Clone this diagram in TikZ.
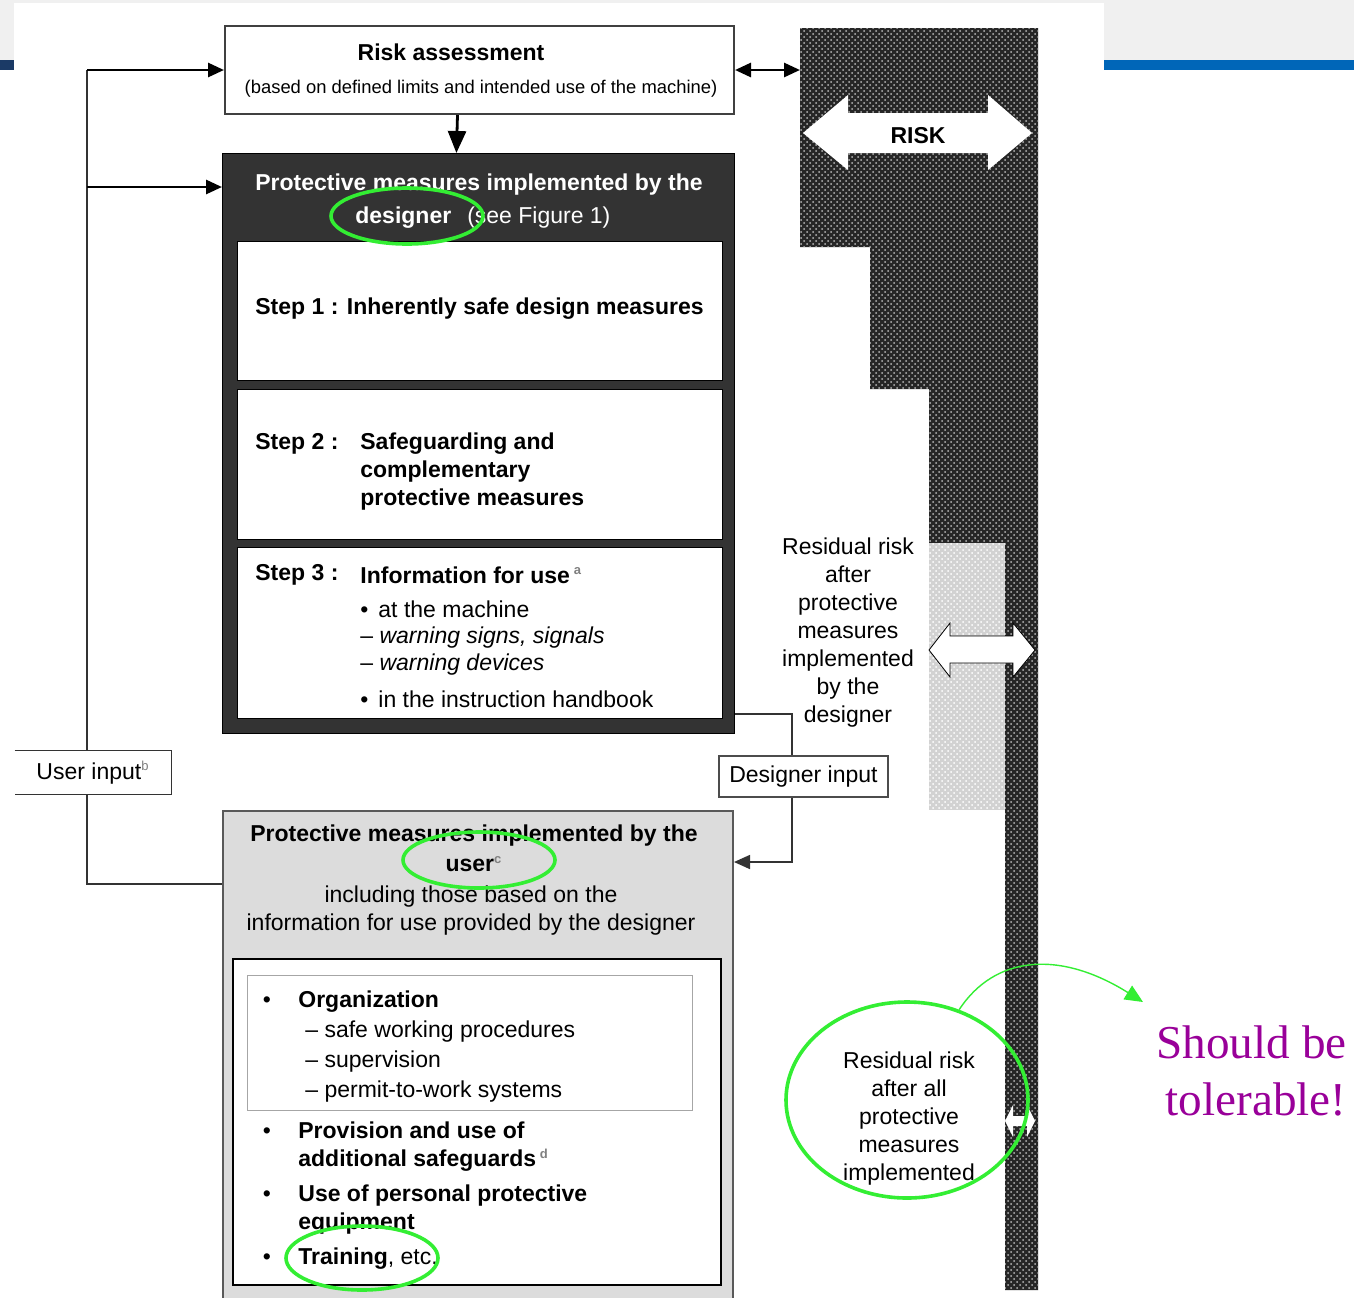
\documentclass[tikz,border=0pt]{standalone}
\usepackage{fontspec}
\setmainfont{Liberation Sans}
\newfontfamily\notefont{Liberation Serif}
\usetikzlibrary{arrows.meta,patterns,shapes.geometric,calc}

\definecolor{headgrey}{HTML}{F0F0F0}
\definecolor{navybar}{HTML}{1B3A66}
\definecolor{bluebar}{HTML}{0066B8}
\definecolor{desfill}{HTML}{333333}
\definecolor{userfill}{HTML}{DCDCDC}
\definecolor{markgreen}{HTML}{33EE33}
\definecolor{notepurple}{HTML}{990099}

\newcommand{\fnmark}[1]{\textsuperscript{\fontsize{6.5}{6.5}\selectfont\color{gray}#1}}

\tikzset{
  txt/.style={inner sep=0pt, yshift=-1.5pt, font=\fontsize{11.5}{14}\selectfont},
  btxt/.style={inner sep=0pt, yshift=-1.5pt, font=\fontsize{11.5}{14}\selectfont\bfseries},
  stepbox/.style={draw=black, fill=white, line width=0.6pt, minimum width=242.5pt, inner sep=0pt, anchor=north west},
  inbox/.style={draw=black!70, fill=white, line width=0.8pt, inner sep=0pt, font=\fontsize{11.5}{14}\selectfont},
  thinline/.style={draw=black!80, line width=0.8pt},
  arrline/.style={draw=black, line width=1.4pt},
  riskfill/.style={fill=black!85, postaction={pattern=crosshatch dots, pattern color=gray!55}},
  lightfill/.style={fill=gray!35, postaction={pattern=crosshatch dots, pattern color=white}},
  ring/.style={ellipse, draw=markgreen, line width=1.8pt, inner sep=0pt}
}

\begin{document}
\begin{tikzpicture}[x=0.5pt, y=-0.5pt, >={Triangle[length=8pt,width=7pt]}]
  \useasboundingbox (0,0) rectangle (1354,1297);

  % slide header behind the figure
  \fill[headgrey] (0,0) rectangle (1354,60);
  \fill[navybar] (0,60) rectangle (14,70);
  \fill[bluebar] (1104,60) rectangle (1354,70);
  \fill[white] (14,3) rectangle (1104,1297);

  % the risk column
  \coordinate (colnw) at (800,28);
  \path[riskfill] (colnw) -- (1038,28) -- (1038,1290) -- (1005,1290) -- (1005,543)
    -- (929,543) -- (929,389) -- (870,389) -- (870,247) -- (800,247) -- cycle;
  \path[lightfill] (929,543) rectangle (1005,810);

  % white double arrows in the column
  \fill[white] (803,133) -- (848,95) -- (848,113) -- (988,113) -- (988,95) -- (1032,133)
    -- (988,170) -- (988,153) -- (848,153) -- (848,170) -- cycle;
  \node[btxt] (risk) at (918,133) {RISK};
  \filldraw[fill=white, draw=black, line width=0.4pt] (929,650) -- (950,623) -- (950,636)
    -- (1013,636) -- (1013,623) -- (1035,650) -- (1013,677) -- (1013,663) -- (950,663)
    -- (950,677) -- cycle;
  \fill[white] (1005,1121) -- (1013,1105) -- (1013,1116) -- (1027,1116) -- (1027,1105)
    -- (1035,1121) -- (1027,1137) -- (1027,1126) -- (1013,1126) -- (1013,1137) -- cycle;

  % risk assessment
  \node[draw=black!75, line width=1pt, fill=white, minimum width=254.5pt, minimum height=44pt,
    inner sep=0pt, anchor=north west] (ra) at (224,25) {};
  \node[btxt] (ratitle) at (451,49) {Risk assessment};
  \node[inner sep=0pt, yshift=-1pt, font=\fontsize{9.2}{11}\selectfont] (rasub) at (481,87)
    {(based on defined limits and intended use of the machine)};

  % designer block
  \node[draw=black, fill=desfill, minimum width=256pt, minimum height=290pt, inner sep=0pt,
    anchor=north west] (des) at (222,153) {};
  \node[btxt, text=white] (destitle) at (479,182) {Protective measures implemented by the};
  \node[txt, text=white, anchor=west] (desname) at (355,215)
    {\textbf{designer}\hspace{8pt}(see Figure 1)};

  \node[stepbox, minimum height=69.5pt] (step1) at (237,241) {};
  \node[btxt, anchor=west] (s1txt) at (255,306) {Step 1 : Inherently safe design measures};

  \node[stepbox, minimum height=75pt] (step2) at (237,389) {};
  \node[btxt, anchor=west] (s2lab) at (255,441) {Step 2 :};
  \node[btxt, anchor=west, align=left] (s2txt) at (360,469)
    {Safeguarding and\\complementary\\protective measures};

  \node[stepbox, minimum height=85.5pt] (step3) at (237,547) {};
  \node[btxt, anchor=west] (s3lab) at (255,572) {Step 3 :};
  \node[btxt, anchor=west] (s3txt) at (360,572) {Information for use\,\fnmark{a}};
  \node[txt, anchor=west] (s3a) at (360,606) {\textbullet\hspace{5pt}at the machine};
  \node[txt, anchor=west] (s3b) at (360,635) {-- \textit{warning signs, signals}};
  \node[txt, anchor=west] (s3c) at (360,662) {-- \textit{warning devices}};
  \node[txt, anchor=west] (s3d) at (360,696) {\textbullet\hspace{5pt}in the instruction handbook};

  \node[txt, align=center] (resdes) at (848,630)
    {Residual risk\\after\\protective\\measures\\implemented\\by the\\designer};

  % inputs
  \node[inbox, minimum width=84.5pt, minimum height=20.5pt] (din) at (803.5,776.5) {Designer input};
  \node[txt, yshift=1.5pt, minimum width=78pt, minimum height=21.5pt] (uin) at (93,772.5) {User input\fnmark{b}};
  \draw[thinline] (uin.north west) -- (uin.north east) -- (uin.south east) -- (uin.south west);

  % user block
  \node[draw=black!65, line width=1pt, fill=userfill, minimum width=255pt, minimum height=250pt,
    inner sep=0pt, anchor=north west] (ubox) at (222,810) {};
  \node[btxt] (utitle) at (474,833) {Protective measures implemented by the};
  \node[btxt] (uname) at (474,861) {user\fnmark{c}};
  \node[txt, align=center] (usub) at (471,908)
    {including those based on the\\information for use provided by the designer};

  \node[draw=black, line width=1pt, fill=white, minimum width=244pt, minimum height=163pt,
    inner sep=0pt, anchor=north west] (ulist) at (232,958) {};
  \node[draw=gray!70, line width=0.5pt, minimum width=222.5pt, minimum height=67.5pt,
    inner sep=0pt, anchor=north west] (orgbox) at (247,975) {};

  \node[txt] (b1) at (267,999) {\textbullet};
  \node[btxt, anchor=west] (org) at (298,999) {Organization};
  \node[txt, anchor=west] (org1) at (305,1029) {-- safe working procedures};
  \node[txt, anchor=west] (org2) at (305,1059) {-- supervision};
  \node[txt, anchor=west] (org3) at (305,1089) {-- permit-to-work systems};
  \node[txt] (b2) at (267,1130) {\textbullet};
  \node[btxt, anchor=west, align=left] (prov) at (298,1144)
    {Provision and use of\\additional safeguards\,\fnmark{d}};
  \node[txt] (b3) at (267,1193) {\textbullet};
  \node[btxt, anchor=west, align=left] (ppe) at (298,1207) {Use of personal protective\\equipment};
  \node[txt] (b4) at (267,1256) {\textbullet};
  \node[txt, anchor=west] (train) at (298,1256) {\textbf{Training}, etc.};

  \node[txt, align=center] (resall) at (909,1116)
    {Residual risk\\after all\\protective\\measures\\implemented};

  % connectors
  \coordinate (ufeed) at (87,66);
  \coordinate (ubend) at (87,884);
  \coordinate (dbend) at (792,714);
  \draw[thinline] (uin.north -| ufeed) -- (ufeed |- ra.west);
  \draw[arrline, ->] (ufeed |- ra.west) -- (ra.west);
  \draw[arrline, ->] (ufeed |- 0,187) -- (des.west |- 0,187);
  \draw[arrline, <->] (ra.east) -- (ra.east -| colnw);
  \draw[arrline, -{Triangle[length=11pt,width=9pt]}] ($(ra.south)+(-22,0)$) -- ($(des.north)+(-22,0)$);
  \draw[thinline] (des.east |- dbend) -- (dbend) -- (dbend |- din.north);
  \draw[thinline, ->] (dbend |- din.south) -- (dbend |- 0,862) -- (ubox.east |- 0,862);
  \draw[thinline] (uin.south -| ufeed) -- (ubend) -- (ubox.west |- ubend);

  % annotations
  \node[ring, minimum width=76pt, minimum height=28pt] (desring) at (407,216) {};
  \node[ring, minimum width=76pt, minimum height=28pt] (userring) at (479,860) {};
  \node[ring, minimum width=76pt, minimum height=32pt] (trainring) at (362,1258) {};
  \node[ring, minimum width=121pt, minimum height=98pt] (tolring) at (907,1100) {};
  \coordinate (tipend) at (1143,1002);
  \draw[markgreen, line width=0.7pt, -{Triangle[length=9pt,width=8pt]}]
    (tolring.60) .. controls (995,955) and (1060,950) .. (tipend);
  \node[inner sep=0pt, align=right, anchor=east, text=notepurple,
    font=\notefont\fontsize{23.6}{28.5}\selectfont] (note) at (1347,1071) {Should be\\tolerable!};
\end{tikzpicture}
\end{document}
